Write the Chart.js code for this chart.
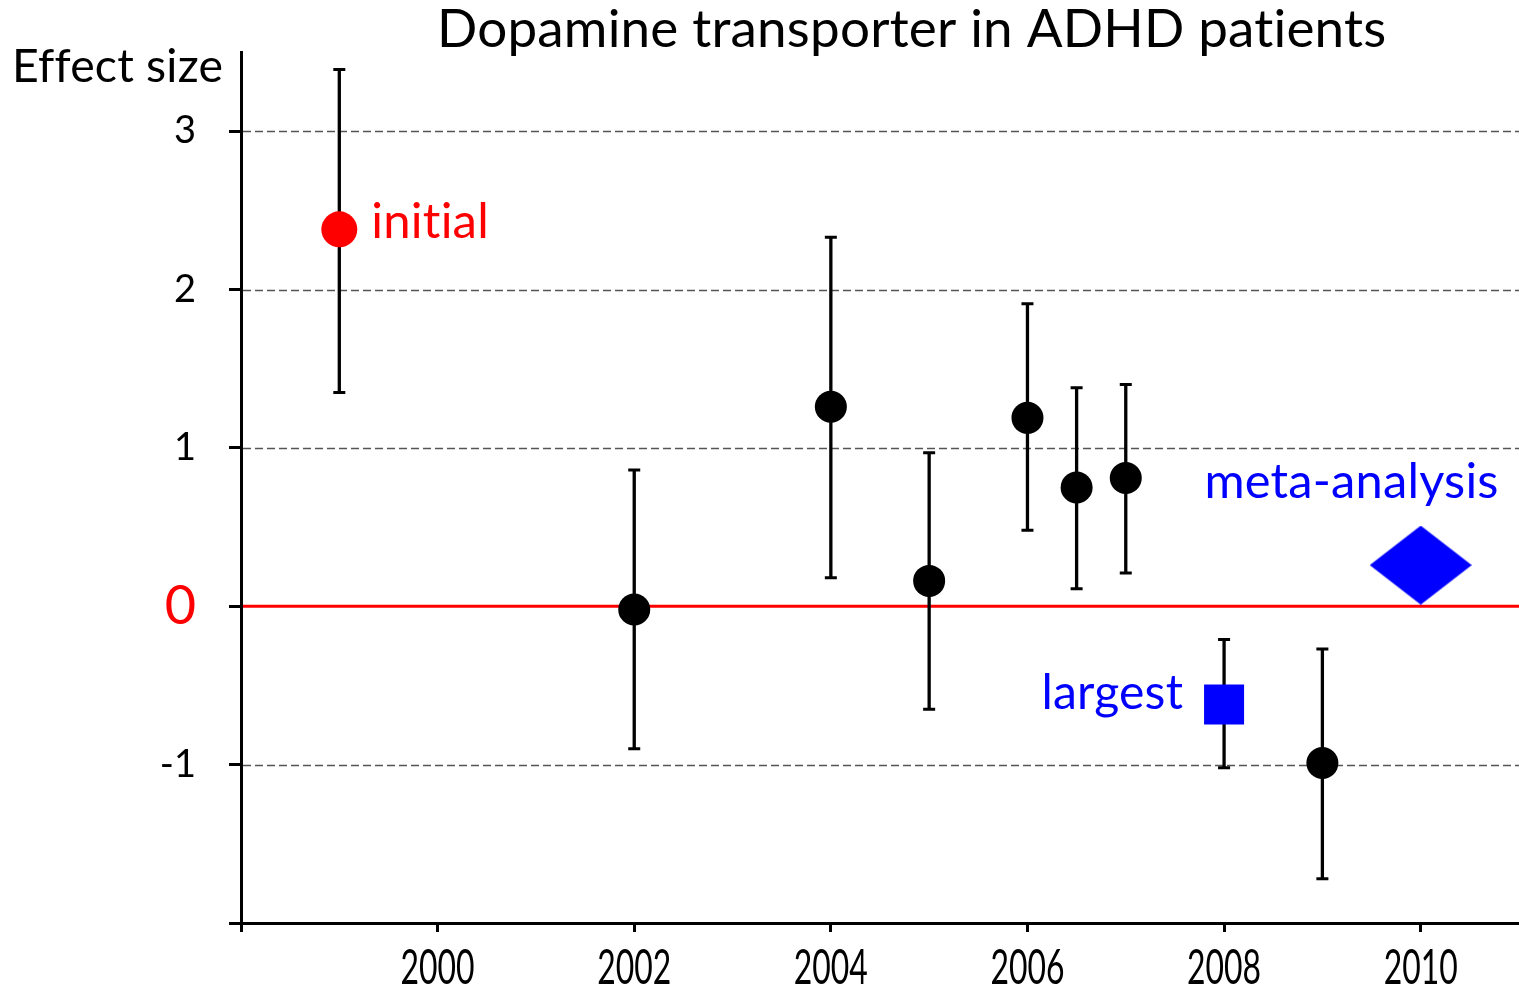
<!DOCTYPE html>
<html><head><meta charset="utf-8">
<script src="https://cdn.jsdelivr.net/npm/chart.js@4.4.0/dist/chart.umd.min.js"></script>
<style>html,body{margin:0;padding:0;background:#fff;overflow:hidden}</style>
</head><body>
<canvas id="c" width="1519" height="989" style="display:block;width:1519px;height:989px"></canvas>
<script>
const chartTitle = 'Dopamine transporter in ADHD patients';
const yAxisTitle = 'Effect size';
const studyYears = [1999, 2002, 2004, 2005, 2006, 2006.5, 2007, 2008, 2009];
const effectSizes = [2.38, -0.02, 1.26, 0.16, 1.19, 0.75, 0.81, -0.62, -0.99];
const ciLower = [1.35, -0.90, 0.18, -0.65, 0.48, 0.11, 0.21, -1.02, -1.72];
const ciUpper = [3.39, 0.86, 2.33, 0.97, 1.91, 1.38, 1.40, -0.21, -0.27];
const studyKinds = ['initial', 'other', 'other', 'other', 'other', 'other', 'other', 'largest', 'other'];
const metaYears = [2010];
const metaEffects = [0.26];
const xTickValues = [1998, 2000, 2002, 2004, 2006, 2008, 2010];
const xTickLabels = ['', '2000', '2002', '2004', '2006', '2008', '2010'];
const yTickValues = [-2, -1, 0, 1, 2, 3];
const yTickLabels = ['', '-1', '0', '1', '2', '3'];
const yGridValues = [-1, 1, 2, 3];
const noteInitial = 'initial';
const noteLargest = 'largest';
const noteMeta = 'meta-analysis';

const FONT = "Lato, 'Noto Sans', sans-serif";

function pointsOf(kind) {
  const out = [];
  studyYears.forEach((yr, i) => { if (studyKinds[i] === kind) out.push({x: yr, y: effectSizes[i]}); });
  return out;
}
const metaPoints = metaYears.map((yr, i) => ({x: yr, y: metaEffects[i]}));

// wide diamond marker
const diamond = document.createElement('canvas');
diamond.width = 102; diamond.height = 79;
(function () {
  const g = diamond.getContext('2d');
  g.fillStyle = '#0000ff';
  g.beginPath();
  g.moveTo(51, 0); g.lineTo(102, 39.5); g.lineTo(51, 79); g.lineTo(0, 39.5);
  g.closePath(); g.fill();
})();

const gridPlugin = {
  id: 'gridPlugin',
  beforeDatasetsDraw(chart) {
    const {ctx, chartArea: a, scales: {y}} = chart;
    ctx.save();
    ctx.strokeStyle = '#555';
    ctx.lineWidth = 1.3;
    ctx.setLineDash([8, 4]);
    yGridValues.forEach(v => {
      const py = Math.round(y.getPixelForValue(v)) + 0.5;
      ctx.beginPath(); ctx.moveTo(a.left + 2, py); ctx.lineTo(a.right, py); ctx.stroke();
    });
    ctx.setLineDash([]);
    ctx.strokeStyle = '#ff0000';
    ctx.lineWidth = 3;
    const p0 = y.getPixelForValue(0);
    ctx.beginPath(); ctx.moveTo(a.left + 2, p0); ctx.lineTo(a.right, p0); ctx.stroke();
    ctx.restore();
  }
};

const errorBarPlugin = {
  id: 'errorBars',
  beforeDatasetsDraw(chart) {
    const {ctx, scales: {x, y}} = chart;
    ctx.save();
    ctx.strokeStyle = '#000';
    studyYears.forEach((yr, i) => {
      const px = x.getPixelForValue(yr);
      const lo = y.getPixelForValue(ciLower[i]);
      const hi = y.getPixelForValue(ciUpper[i]);
      ctx.lineWidth = 3.3;
      ctx.beginPath(); ctx.moveTo(px, lo); ctx.lineTo(px, hi); ctx.stroke();
      ctx.lineWidth = 3;
      ctx.beginPath();
      ctx.moveTo(px - 6, lo); ctx.lineTo(px + 6, lo);
      ctx.moveTo(px - 6, hi); ctx.lineTo(px + 6, hi);
      ctx.stroke();
    });
    ctx.restore();
  }
};

function fitFont(ctx, text, width, family) {
  ctx.font = '100px ' + family;
  const w = ctx.measureText(text).width;
  return 100 * width / w;
}

// x tick labels drawn condensed (the original uses a narrow face)
const xLabelPlugin = {
  id: 'xLabels',
  afterDraw(chart) {
    const {ctx, scales: {x}} = chart;
    ctx.save();
    ctx.font = '49px ' + FONT;
    ctx.fillStyle = '#000';
    ctx.textAlign = 'center';
    ctx.textBaseline = 'alphabetic';
    xTickValues.forEach((v, i) => {
      const t = xTickLabels[i];
      if (!t) return;
      const w = ctx.measureText(t).width;
      const k = 74 / w;
      const px = x.getPixelForValue(v);
      ctx.save();
      ctx.translate(px, x.top + 61);
      ctx.scale(k, 1);
      ctx.fillText(t, 0, 0);
      ctx.restore();
    });
    ctx.restore();
  }
};

const textPlugin = {
  id: 'texts',
  afterDraw(chart) {
    const {ctx, scales: {x, y}} = chart;
    ctx.save();
    if ('letterSpacing' in ctx) ctx.letterSpacing = '0.2px';
    ctx.textBaseline = 'alphabetic';
    let s = fitFont(ctx, chartTitle, 946, FONT);
    ctx.font = s + 'px ' + FONT;
    ctx.fillStyle = '#000';
    ctx.textAlign = 'left';
    ctx.fillText(chartTitle, 437, 47);
    s = fitFont(ctx, yAxisTitle, 210, FONT);
    ctx.font = s + 'px ' + FONT;
    ctx.fillText(yAxisTitle, 12, 82);

    const ini = pointsOf('initial')[0];
    s = fitFont(ctx, noteInitial, 117, FONT);
    ctx.font = s + 'px ' + FONT;
    ctx.fillStyle = '#ff0000';
    ctx.textAlign = 'left';
    ctx.fillText(noteInitial, x.getPixelForValue(ini.x) + 32, y.getPixelForValue(ini.y) + 9);

    const lg = pointsOf('largest')[0];
    s = fitFont(ctx, noteLargest, 141, FONT);
    ctx.font = s + 'px ' + FONT;
    ctx.fillStyle = '#0000ff';
    ctx.textAlign = 'right';
    ctx.fillText(noteLargest, x.getPixelForValue(lg.x) - 41, y.getPixelForValue(lg.y) + 5);

    const mp = metaPoints[0];
    s = fitFont(ctx, noteMeta, 293, FONT);
    ctx.font = s + 'px ' + FONT;
    ctx.textAlign = 'right';
    ctx.fillText(noteMeta, x.getPixelForValue(mp.x) + 78, y.getPixelForValue(mp.y) - 67);
    ctx.restore();
  }
};

new Chart(document.getElementById('c'), {
  type: 'scatter',
  data: {
    datasets: [
      {label: 'initial', data: pointsOf('initial'), pointStyle: 'circle', pointRadius: 18,
       pointBackgroundColor: '#ff0000', pointBorderWidth: 0},
      {label: 'studies', data: pointsOf('other'), pointStyle: 'circle', pointRadius: 16,
       pointBackgroundColor: '#000000', pointBorderWidth: 0},
      {label: 'largest', data: pointsOf('largest'), pointStyle: 'rect', pointRadius: 28.3,
       pointBackgroundColor: '#0000ff', pointBorderWidth: 0},
      {label: 'meta-analysis', data: metaPoints, pointStyle: diamond, pointRadius: 40,
       pointBackgroundColor: '#0000ff', pointBorderWidth: 0}
    ]
  },
  options: {
    responsive: false,
    animation: false,
    devicePixelRatio: 1,
    events: [],
    layout: {autoPadding: false, padding: {top: 52, left: 0, right: 0, bottom: 0}},
    plugins: {legend: {display: false}, tooltip: {enabled: false}, title: {display: false}},
    scales: {
      x: {
        type: 'linear', min: 1998, max: 2011,
        afterBuildTicks: s => { s.ticks = xTickValues.map(v => ({value: v})); },
        afterFit: s => { s.height = 66; s.paddingLeft = 0; s.paddingRight = 0; },
        grid: {drawOnChartArea: false, tickLength: 9, tickWidth: 3, tickColor: '#000'},
        border: {color: '#000', width: 3},
        ticks: {display: false, autoSkip: false, maxRotation: 0, minRotation: 0}
      },
      y: {
        type: 'linear', min: -2, max: 3.5,
        afterBuildTicks: s => { s.ticks = yTickValues.map(v => ({value: v})); },
        afterFit: s => { s.width = 241; s.paddingTop = 0; s.paddingBottom = 0; },
        grid: {drawOnChartArea: false, tickLength: 12, tickWidth: 3, tickColor: '#000'},
        border: {color: '#000', width: 3},
        ticks: {
          padding: 33,
          color: c => (c.tick && c.tick.value === 0) ? '#ff0000' : '#000',
          font: c => (c.tick && c.tick.value === 0) ? {family: FONT, size: 54} : {family: FONT, size: 38},
          callback: (v, i) => yTickLabels[i]
        }
      }
    }
  },
  plugins: [gridPlugin, errorBarPlugin, xLabelPlugin, textPlugin]
});
</script>
</body></html>
